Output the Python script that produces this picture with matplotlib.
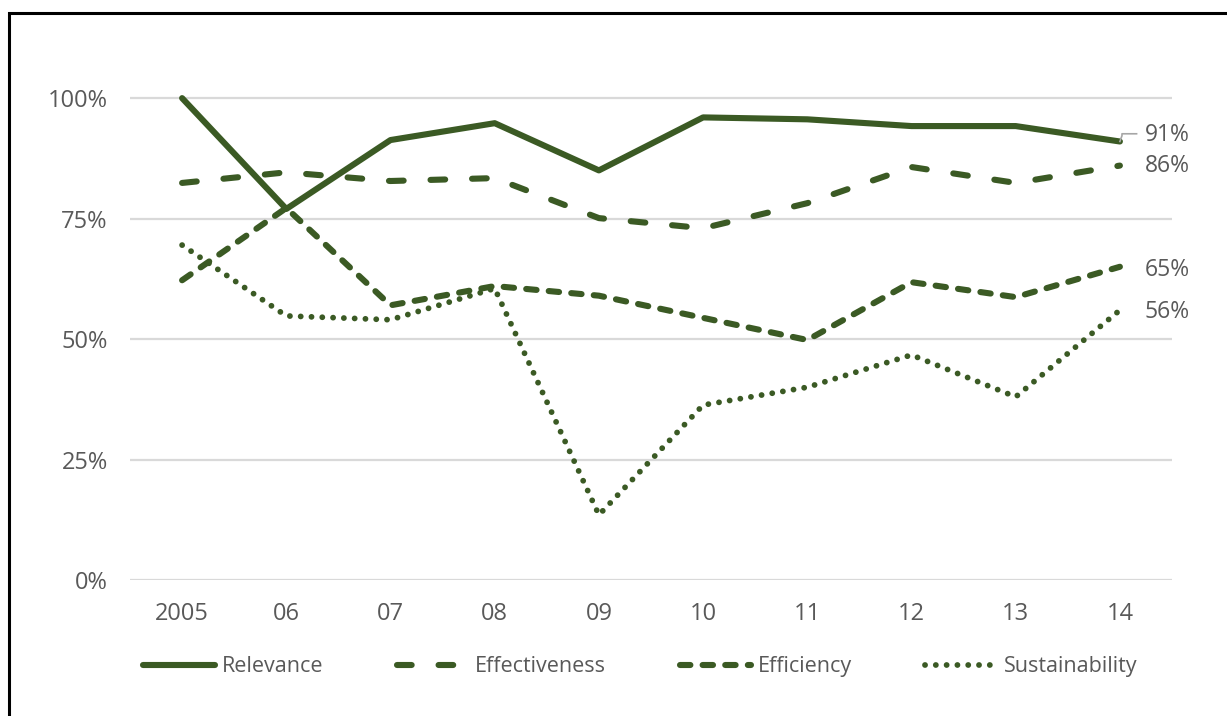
import numpy as np
import matplotlib
matplotlib.use("Agg")
from matplotlib import pyplot as plt
from matplotlib.patches import Rectangle

plt.rcParams['font.family'] = ['Open Sans', 'DejaVu Sans']

# share of evaluations rated satisfactory, per criterion
years = ['2005', '06', '07', '08', '09', '10', '11', '12', '13', '14']
relevance = [100, 77, 91.3, 94.8, 85, 96, 95.6, 94.2, 94.2, 91]
effectiveness = [82.4, 84.6, 82.8, 83.4, 75.1, 73, 78.2, 85.7, 82.4, 86]
efficiency = [62.2, 77.2, 57, 61, 59, 54.4, 49.8, 61.8, 58.7, 65]
sustainability = [69.5, 54.8, 54, 60.5, 13.5, 36.3, 40, 46.7, 38, 56]
end_labels = ['91%', '86%', '65%', '56%']

green = '#3b5a24'
grey_text = '#595959'

fig = plt.figure(figsize=(12.27, 7.16), dpi=100)
ax = fig.add_axes([130 / 1227, 0.19, 1042 / 1227, 0.7066])

x = np.arange(len(years))
lw = 4.4
l1, = ax.plot(x, relevance, color=green, lw=lw, solid_capstyle='round',
              label='Relevance', clip_on=False)
l2, = ax.plot(x, effectiveness, color=green, lw=lw, dashes=(2.4, 4.4),
              dash_capstyle='round', label='Effectiveness', clip_on=False)
l3, = ax.plot(x, efficiency, color=green, lw=lw, dashes=(1.7, 2.0),
              dash_capstyle='round', label='Efficiency', clip_on=False)
l4, = ax.plot(x, sustainability, color=green, lw=lw * 0.95, dashes=(0.01, 1.85),
              dash_capstyle='round', label='Sustainability', clip_on=False)

ax.set_xlim(-0.5, 9.5)
ax.set_ylim(0, 105)
ax.set_yticks([0, 25, 50, 75, 100])
ax.set_yticklabels(['0%', '25%', '50%', '75%', '100%'])
ax.set_xticks(x)
ax.set_xticklabels(years)
ax.yaxis.grid(True, color='#d9d9d9', lw=1.6)
ax.set_axisbelow(True)
for s in ax.spines.values():
    s.set_visible(False)
ax.tick_params(length=0, labelsize=17, labelcolor=grey_text)
ax.tick_params(axis='y', pad=16)
ax.tick_params(axis='x', pad=16)

# end-of-series labels
series = [relevance, effectiveness, efficiency, sustainability]
offsets = [1.3, 0.0, -0.7, -0.4]
for vals, lab, off in zip(series, end_labels, offsets):
    ax.text(9.24, vals[-1] + off, lab, fontsize=16.5, color=grey_text,
            va='center', ha='left')
# leader line for the relevance label
ax.plot([9.0, 9.02, 9.02, 9.16], [relevance[-1], relevance[-1] + 1.2,
        relevance[-1] + 1.6, relevance[-1] + 1.6], color='#a6a6a6', lw=1.2,
        clip_on=False)

leg = fig.legend(handles=[l1, l2, l3, l4], loc='center', ncol=4,
                 bbox_to_anchor=(0.522, 0.069), frameon=False, fontsize=15.5,
                 handlelength=3.3, handletextpad=0.35, columnspacing=3.4,
                 labelcolor=grey_text)

# outer frame
fig.patches.append(Rectangle((9 / 1227, -0.05), 1.2, (716 - 13) / 716 + 0.05,
                             transform=fig.transFigure, fill=False,
                             edgecolor='black', lw=2.2))

fig.savefig('out.png', dpi=100)
